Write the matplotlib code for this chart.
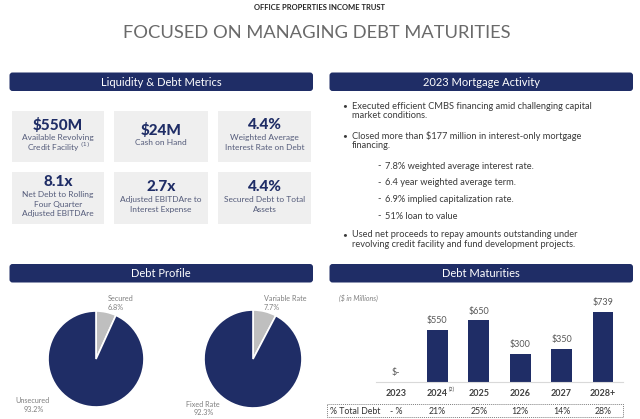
import matplotlib
matplotlib.use("Agg")
import matplotlib.pyplot as plt
from matplotlib.patches import FancyBboxPatch, Rectangle

plt.rcParams['font.family'] = ['Lato', 'DejaVu Sans']

NAVY = '#1F2D66'
GRAY_SLICE = '#BFBFBF'
BOX_BG = '#EFEFEF'
SUB = '#545B7A'
TXT = '#3A3A3A'
LBL = '#7F7F7F'

# ---- data ----
metric_values = ['$550M', '$24M', '4.4%', '8.1x', '2.7x', '4.4%']
metric_labels = ['Available Revolving\nCredit Facility$^{\\ (1)}$', 'Cash on Hand',
                 'Weighted Average\nInterest Rate on Debt',
                 'Net Debt to Rolling\nFour Quarter\nAdjusted EBITDAre',
                 'Adjusted EBITDAre to\nInterest Expense',
                 'Secured Debt to Total\nAssets']
secured_labels = ['Secured', 'Unsecured']
secured_values = [6.8, 93.2]
rate_labels = ['Variable Rate', 'Fixed Rate']
rate_values = [7.7, 92.3]
years = ['2023', '2024', '2025', '2026', '2027', '2028+']
maturities = [0, 550, 650, 300, 350, 739]
value_labels = ['$-', '$550', '$650', '$300', '$350', '$739']
pct_total = ['- %', '21%', '25%', '12%', '14%', '28%']

W, H = 640, 419
fig = plt.figure(figsize=(W / 100, H / 100), dpi=100)
fig.patch.set_facecolor('white')

lay = fig.add_axes([0, 0, 1, 1])
lay.set_xlim(0, W)
lay.set_ylim(H, 0)
lay.axis('off')


def fa(l, t, w, h):
    return [l / W, (H - t - h) / H, w / W, h / H]


# titles
lay.text(320, 8, 'OFFICE PROPERTIES INCOME TRUST', ha='center', va='center',
         fontsize=5.5, fontweight='bold', color='#222222')
lay.text(317, 33, 'FOCUSED ON MANAGING DEBT MATURITIES', ha='center', va='center',
         fontsize=13.2, fontweight='normal', color='#6A6A6A')

# header bars
headers = [(9.5, 72.5, 'Liquidity & Debt Metrics'), (329.5, 72.5, '2023 Mortgage Activity'),
           (9.5, 264, 'Debt Profile'), (329.5, 264, 'Debt Maturities')]
for x, y, t in headers:
    lay.add_patch(FancyBboxPatch((x, y), 303.5, 18.5,
                                 boxstyle='round,pad=0,rounding_size=3',
                                 fc=NAVY, ec='none'))
    lay.text(x + 303.5 / 2, y + 9.5, t, ha='center', va='center',
             fontsize=8, color='white')

# metric boxes
cols = [(12, 104), (114, 208), (218, 311)]
rows = [(111, 162), (172, 224)]
for i, (v, lab) in enumerate(zip(metric_values, metric_labels)):
    r, c = divmod(i, 3)
    x0, x1 = cols[c]
    y0, y1 = rows[r]
    lay.add_patch(Rectangle((x0, y0), x1 - x0, y1 - y0, fc=BOX_BG, ec='none'))
    lines = lab.split('\n')
    cx = (x0 + x1) / 2
    span = 12.5 + (len(lines) - 1) * 9.6
    vy = (y0 + y1) / 2 - span / 2
    lay.text(cx, vy, v, ha='center', va='center', fontsize=11,
             fontweight='black', color=NAVY)
    for k, line in enumerate(lines):
        lay.text(cx, vy + 12.5 + k * 9.6, line, ha='center', va='center',
                 fontsize=6.0, color=SUB)

# mortgage activity bullets
bullets = [
    ('b', 106, 'Executed efficient CMBS financing amid challenging capital'),
    ('c', 115.5, 'market conditions.'),
    ('b', 136, 'Closed more than $177 million in interest-only mortgage'),
    ('c', 145.5, 'financing.'),
    ('d', 166, '7.8% weighted average interest rate.'),
    ('d', 182.5, '6.4 year weighted average term.'),
    ('d', 199, '6.9% implied capitalization rate.'),
    ('d', 216, '51% loan to value'),
    ('b', 234.5, 'Used net proceeds to repay amounts outstanding under'),
    ('c', 244, 'revolving credit facility and fund development projects.'),
]
FS = 6.65
for kind, y, t in bullets:
    if kind == 'b':
        lay.text(345, y, '•', ha='center', va='center', fontsize=6, color=TXT)
        lay.text(352, y, t, ha='left', va='center', fontsize=FS, color=TXT)
    elif kind == 'c':
        lay.text(352, y, t, ha='left', va='center', fontsize=FS, color=TXT)
    else:
        lay.text(379, y, '-', ha='center', va='center', fontsize=FS, color=TXT)
        lay.text(385, y, t, ha='left', va='center', fontsize=FS, color=TXT)

# pies
for (cx, cy, r), vals, labs, lpos in [
        ((96, 359, 48), secured_values, secured_labels,
         [((108, 298), (108, 307), 'left'), ((32, 400), (34, 409), 'center')]),
        ((253, 359, 49), rate_values, rate_labels,
         [((264, 298), (264, 307), 'left'), ((203, 404), (204, 412), 'center')])]:
    pax = fig.add_axes(fa(cx - r, cy - r, 2 * r, 2 * r))
    pax.pie(vals, colors=[GRAY_SLICE, NAVY], startangle=90, counterclock=False,
            radius=1, wedgeprops=dict(edgecolor='white', linewidth=1.2))
    pax.set_xlim(-1, 1)
    pax.set_ylim(-1, 1)
    pax.set_aspect('equal')
    pax.axis('off')
    for (p1, p2, ha), lab, v in zip(lpos, labs, vals):
        lay.text(p1[0], p1[1], lab, ha=ha, va='center', fontsize=5.2, color=LBL)
        lay.text(p2[0], p2[1], f'{v:.1f}%', ha=ha, va='center', fontsize=5.2, color=LBL)

# bar chart
x = list(range(len(years)))
step = 41.4
x_left = 376
x_right = 623
base_y = 382
top_y = 302
bax = fig.add_axes(fa(x_left, top_y, x_right - x_left, base_y - top_y))
px_per = 70 / 739
bax.bar(x, maturities, width=0.5, color=NAVY)
bax.set_xlim((x_left - 396) / step, (x_right - 396) / step)
bax.set_ylim(0, (base_y - top_y) / px_per)
for s in ['top', 'right', 'left']:
    bax.spines[s].set_visible(False)
bax.spines['bottom'].set_color('#D9D9D9')
bax.set_yticks([])
bax.set_xticks(x, labels=years)
bax.tick_params(axis='x', length=0, pad=5, labelsize=6.5, labelcolor='#404040')
for lbl in bax.get_xticklabels():
    lbl.set_fontweight('bold')
for xi, v, t in zip(x, maturities, value_labels):
    off = 9 if v > 0 else 10
    bax.annotate(t, (xi, v), xytext=(0, off), textcoords='offset pixels',
                 ha='center', va='center', fontsize=6.5, color='#595959')
bax.annotate('(2)', (1, 0), xytext=(11, -7), textcoords='offset pixels',
             ha='left', va='center', fontsize=4, color='#404040')

lay.text(339, 298, '($ in Millions)', ha='left', va='center', fontsize=5,
         style='italic', color=LBL)

# % total debt row
lay.add_patch(Rectangle((327, 404), 296, 13, fc='none', ec='#808080',
                        lw=0.7, ls=(0, (1, 1))))
lay.text(330, 411, '% Total Debt', ha='left', va='center', fontsize=6.3, color='#333333')
for i, p in enumerate(pct_total):
    lay.text(396 + i * step, 411, p, ha='center', va='center', fontsize=6.3, color='#333333')

fig.savefig('out.png', dpi=100, facecolor='white')
